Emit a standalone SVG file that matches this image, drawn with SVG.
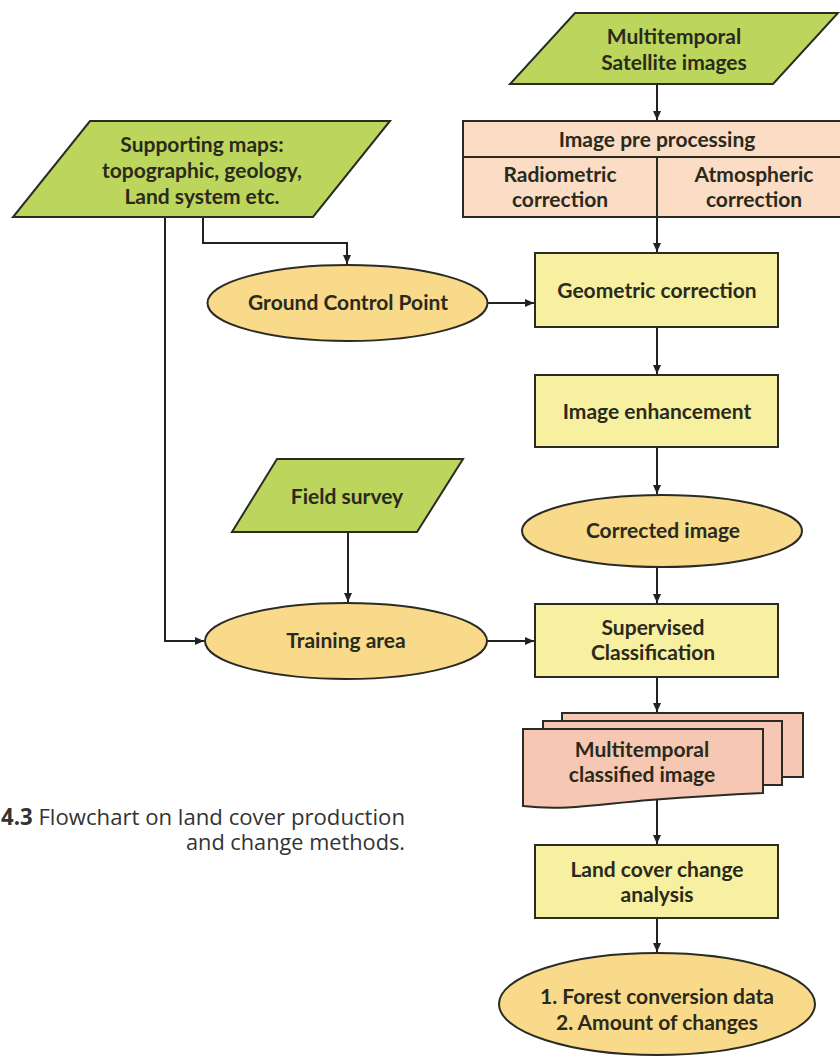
<svg xmlns="http://www.w3.org/2000/svg" width="840" height="1061" viewBox="0 0 840 1061">
<defs>
<marker id="ah" markerUnits="userSpaceOnUse" markerWidth="10" markerHeight="10" refX="9" refY="4" orient="auto">
<path d="M0,0 L9,4 L0,8 Z" fill="#222"/>
</marker>
<style>
.sh{stroke:#2b2b26;stroke-width:2}
.green{fill:#bcd55c}
.pink{fill:#fbdcc5}
.yel{fill:#f7f0a0}
.ell{fill:#f9d98a}
.doc{fill:#f6c7b2}
.t{font-family:Lato,"Open Sans","Liberation Sans",sans-serif;font-weight:bold;font-size:21px;fill:#2a2a1c;text-anchor:middle}
.c{stroke:#222;stroke-width:2;fill:none}
.cap{font-family:"Open Sans",Lato,"Liberation Sans",sans-serif;font-size:22.5px;fill:#333}
</style>
</defs>
<rect width="840" height="1061" fill="#ffffff"/>

<g id="connectors">
<path class="c" d="M657,84 V120" marker-end="url(#ah)"/>
<path class="c" d="M657,217 V252" marker-end="url(#ah)"/>
<path class="c" d="M487,303 H534" marker-end="url(#ah)"/>
<path class="c" d="M657,327 V374" marker-end="url(#ah)"/>
<path class="c" d="M657,447 V494" marker-end="url(#ah)"/>
<path class="c" d="M657,567 V603" marker-end="url(#ah)"/>
<path class="c" d="M487,641 H534" marker-end="url(#ah)"/>
<path class="c" d="M657,677 V712" marker-end="url(#ah)"/>
<path class="c" d="M657,797 V844" marker-end="url(#ah)"/>
<path class="c" d="M657,918 V952" marker-end="url(#ah)"/>
<path class="c" d="M203,217 V243 H347 V264" marker-end="url(#ah)"/>
<path class="c" d="M165,217 V641 H204" marker-end="url(#ah)"/>
<path class="c" d="M348,532 V602" marker-end="url(#ah)"/>
</g>

<g id="satellite">
<polygon class="green sh" points="575,13 838,13 773,84 510,84"/>
<text class="t" x="674" y="44">Multitemporal</text>
<text class="t" x="674" y="70">Satellite images</text>
</g>

<g id="preprocessing">
<rect class="pink sh" x="463" y="121" width="390" height="96"/>
<line class="sh" x1="463" y1="157" x2="853" y2="157"/>
<line class="sh" x1="657" y1="157" x2="657" y2="217"/>
<text class="t" x="657" y="147">Image pre processing</text>
<text class="t" x="560" y="182">Radiometric</text>
<text class="t" x="560" y="207">correction</text>
<text class="t" x="754" y="182">Atmospheric</text>
<text class="t" x="754" y="207">correction</text>
</g>

<g id="supporting">
<polygon class="green sh" points="90,121 390,121 313,217 13,217"/>
<text class="t" x="202" y="152">Supporting maps:</text>
<text class="t" x="202" y="178">topographic, geology,</text>
<text class="t" x="202" y="204">Land system etc.</text>
</g>

<g id="gcp">
<ellipse class="ell sh" cx="347.5" cy="303" rx="140" ry="38"/>
<text class="t" x="348" y="310">Ground Control Point</text>
</g>

<g id="geometric">
<rect class="yel sh" x="535" y="253" width="243" height="74"/>
<text class="t" x="657" y="298">Geometric correction</text>
</g>

<g id="enhancement">
<rect class="yel sh" x="535" y="375" width="243" height="72"/>
<text class="t" x="657" y="419">Image enhancement</text>
</g>

<g id="field">
<polygon class="green sh" points="277,459 463,459 417,532 232,532"/>
<text class="t" x="347" y="504">Field survey</text>
</g>

<g id="corrected">
<ellipse class="ell sh" cx="662" cy="531" rx="140" ry="36"/>
<text class="t" x="663" y="538">Corrected image</text>
</g>

<g id="training">
<ellipse class="ell sh" cx="346" cy="641" rx="141" ry="38"/>
<text class="t" x="346" y="648">Training area</text>
</g>

<g id="supervised">
<rect class="yel sh" x="535" y="604" width="243" height="73"/>
<text class="t" x="653" y="635">Supervised</text>
<text class="t" x="653" y="660">Classification</text>
</g>

<g id="classified">
<rect class="doc sh" x="562" y="713" width="241" height="64"/>
<rect class="doc sh" x="543" y="721" width="239" height="64"/>
<path class="doc sh" d="M523,729 H763 V793 C720,795 690,797 650,800 C600,804 565,811 523,806 Z"/>
<text class="t" x="642" y="757">Multitemporal</text>
<text class="t" x="642" y="782">classified image</text>
</g>

<g id="change">
<rect class="yel sh" x="535" y="845" width="243" height="73"/>
<text class="t" x="657" y="877">Land cover change</text>
<text class="t" x="657" y="902">analysis</text>
</g>

<g id="result">
<ellipse class="ell sh" cx="657" cy="1004" rx="158" ry="51"/>
<text class="t" x="657" y="1004">1. Forest conversion data</text>
<text class="t" x="657" y="1030">2. Amount of changes</text>
</g>

<g id="caption">
<text class="cap" x="1" y="825" textLength="404" lengthAdjust="spacingAndGlyphs"><tspan font-weight="bold">4.3</tspan> Flowchart on land cover production</text>
<text class="cap" x="186" y="850" textLength="219" lengthAdjust="spacingAndGlyphs">and change methods.</text>
</g>
</svg>
